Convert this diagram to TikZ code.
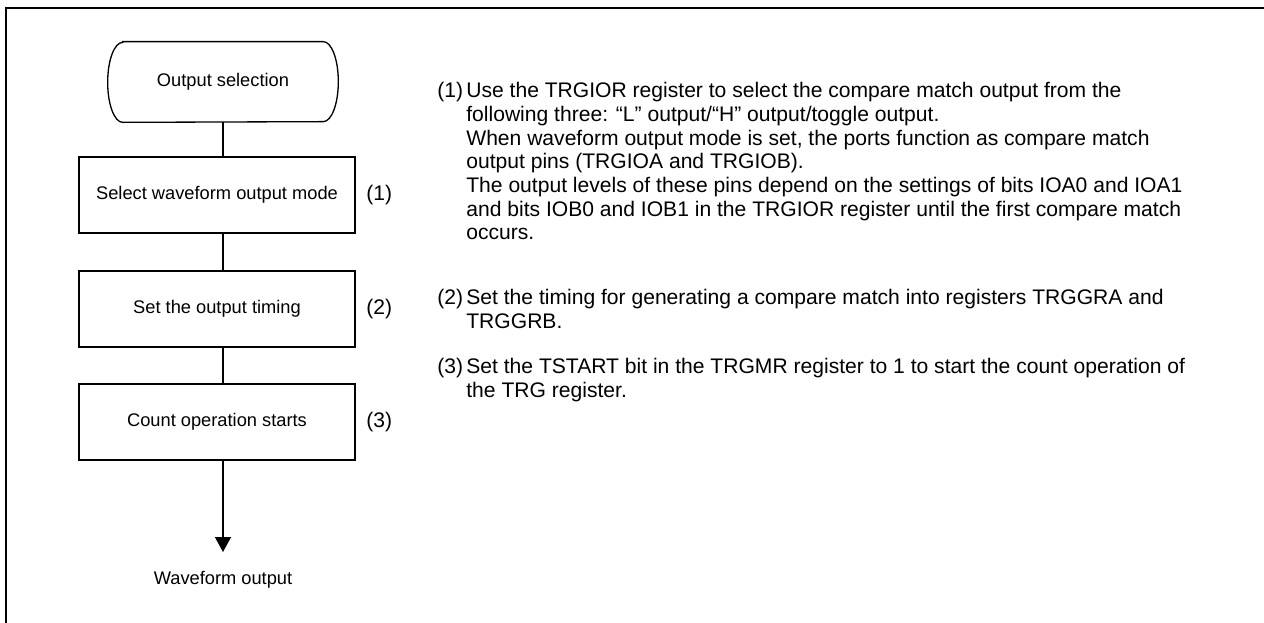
\documentclass[tikz,border=0pt]{standalone}
\usepackage{fontspec}
\setmainfont{Liberation Sans}
\usetikzlibrary{arrows.meta}
\tikzset{
  stepbox/.style={draw, line width=0.75pt, minimum width=5.52cm, minimum height=1.52cm},
  stepno/.style={anchor=west, inner sep=0pt, font=\fontsize{12}{13.6}\selectfont},
  para/.style={anchor=north west, inner sep=0pt, align=left,
    font=\fontsize{12}{13.5}\selectfont},
  flow/.style={line width=0.75pt}
}
\begin{document}
\begin{tikzpicture}[x=0.02cm, y=-0.02cm, font=\fontsize{10.4}{12.5}\selectfont]
\useasboundingbox (0,0) rectangle (1264,622);
\draw [line width=0.06cm] (6,660)--(6,8)--(1300,8);
\node [minimum width=4.6cm, minimum height=1.6cm] (start) at (223,82) {Output selection};
\draw [flow] ([xshift=0.3cm]start.north west)--([xshift=-0.3cm]start.north east)
  arc [start angle=90, end angle=-90, x radius=0.3cm, y radius=0.8cm]
  --([xshift=0.3cm]start.south west)
  arc [start angle=270, end angle=90, x radius=0.3cm, y radius=0.8cm]--cycle;
\node [stepbox] (mode) at (217,195) {Select waveform output mode};
\node [stepbox] (timing) at (217,309) {Set the output timing};
\node [stepbox] (count) at (217,422) {Count operation starts};
\node [stepno] (n1) at (366,195) {(1)};
\node [stepno] (n2) at (366,309) {(2)};
\node [stepno] (n3) at (366,422) {(3)};
\coordinate (tip) at (223,552);
\node (wave) at (223,580) {Waveform output};
\draw [flow] (start.south)--(start.south |- mode.north);
\draw [flow] (mode.south -| start.south)--(timing.north -| start.south);
\draw [flow] (timing.south -| start.south)--(count.north -| start.south);
\draw [flow, -{Triangle[width=0.32cm, length=0.3cm]}] (count.south -| start.south)--(tip);
\node [para] (p1no) at (437,82) {(1)};
\node [para] (p1) at (466,82) {Use the TRGIOR register to select the compare match output from the\\
following three: ``L'' output/``H'' output/toggle output.\\
When waveform output mode is set, the ports function as compare match\\
output pins (TRGIOA and TRGIOB).\\
The output levels of these pins depend on the settings of bits IOA0 and IOA1\\
and bits IOB0 and IOB1 in the TRGIOR register until the first compare match\\
occurs.};
\node [para] (p2no) at (437,289) {(2)};
\node [para] (p2) at (466,289) {Set the timing for generating a compare match into registers TRGGRA and\\
TRGGRB.};
\node [para] (p3no) at (437,358) {(3)};
\node [para] (p3) at (466,358) {Set the TSTART bit in the TRGMR register to 1 to start the count operation of\\
the TRG register.};
\end{tikzpicture}
\end{document}
